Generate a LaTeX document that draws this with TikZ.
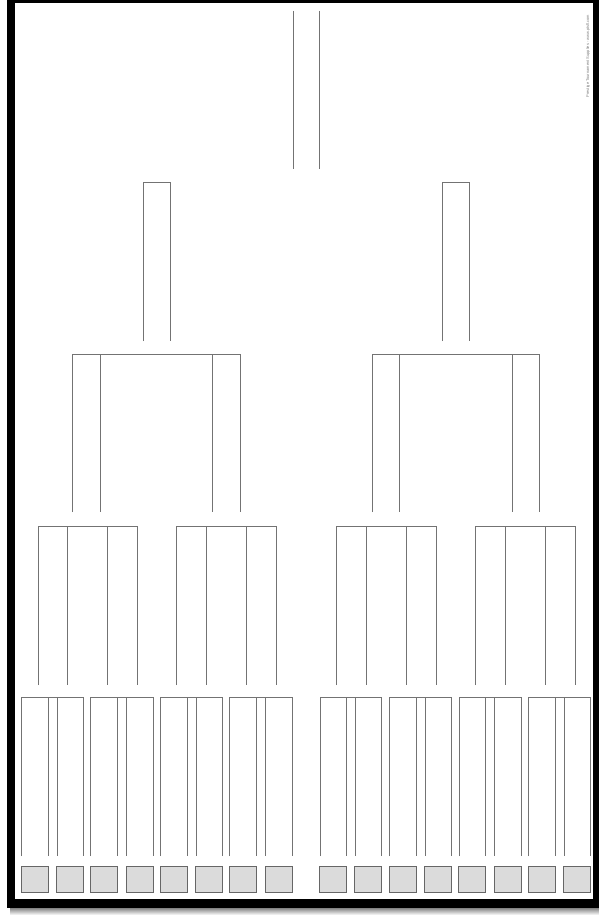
\documentclass[tikz,border=0pt]{standalone}
\usepackage{fontspec}
\setmainfont{Liberation Sans}
\begin{document}
\begin{tikzpicture}[x=1pt,y=-1pt,
  bline/.style={draw=black!55,line width=0.8pt},
  seedbox/.style={draw=black!60,fill=black!14,line width=0.8pt,minimum width=27pt,minimum height=26pt,inner sep=0pt},
  credit/.style={text=black!50,font=\fontsize{4}{4}\selectfont,inner sep=0pt}]
\useasboundingbox (0,0) rectangle (599,915);
% frame with shadow
\shade[top color=black!55,bottom color=white] (10,907) rectangle (599,915);
\fill[black] (7,0) rectangle (599,908);
\fill[white] (15,3) rectangle (593,899);
% round 1 (bottom) with seed boxes
\foreach \a/\b/\c/\d [count=\i] in {21/48/57/83,90/117/126/153,160/187/196/222,229/256/265/292,320/346/355/381,389/416/425/451,459/485/494/521,528/555/564/590}{
  \draw[bline] (\a,856) -- (\a,697) -- (\d,697) -- (\d,856);
  \draw[bline] (\b,697) -- (\b,856);
  \draw[bline] (\c,697) -- (\c,856);
  \node[seedbox] (box\i a) at ({(\a+\b)/2},879) {};
  \node[seedbox] (box\i b) at ({(\c+\d)/2},879) {};
}
% round 2
\foreach \a/\b/\c/\d in {38/67/107/137,176/206/246/276,336/366/406/436,475/505/545/575}{
  \draw[bline] (\a,685) -- (\a,526) -- (\d,526) -- (\d,685);
  \draw[bline] (\b,526) -- (\b,685);
  \draw[bline] (\c,526) -- (\c,685);
}
% round 3
\foreach \a/\b/\c/\d in {72/100/212/240,372/399/512/539}{
  \draw[bline] (\a,512) -- (\a,354) -- (\d,354) -- (\d,512);
  \draw[bline] (\b,354) -- (\b,512);
  \draw[bline] (\c,354) -- (\c,512);
}
% semifinal slots
\foreach \a/\b in {143/170,442/469}{
  \draw[bline] (\a,341) -- (\a,182) -- (\b,182) -- (\b,341);
}
% champion
\draw[bline] (293,11) -- (293,169);
\draw[bline] (319,11) -- (319,169);
% credit
\node[credit,rotate=90] (credit) at (588,56) {Prestige Tournament Supplies - www.ptsfl.com};
\end{tikzpicture}
\end{document}
